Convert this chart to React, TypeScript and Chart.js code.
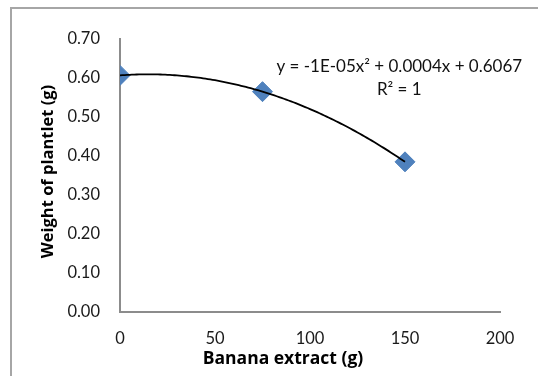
import React, { useEffect, useRef } from "react";
import { Chart, registerables } from "chart.js";

Chart.register(...registerables);

// Banana extract dose (g) and resulting plantlet weight (g)
const extractDose = [0, 75, 150];
const plantletWeight = [0.6067, 0.565, 0.385];

const xTicks = [0, 50, 100, 150, 200];
const yTicks = [0, 0.1, 0.2, 0.3, 0.4, 0.5, 0.6, 0.7];

const xTitle = "Banana extract (g)";
const yTitle = "Weight of plantlet (g)";
const equationText = "y = -1E-05x² + 0.0004x + 0.6067";
const rSquaredText = "R² = 1";

const FONT = "Lato, 'Open Sans', sans-serif";
const TITLE_FONT = "'Open Sans', Lato, sans-serif";

// Least-squares quadratic fit (exact when there are three points)
function fitQuadratic(xs: number[], ys: number[]) {
  const n = xs.length;
  let s0 = n, s1 = 0, s2 = 0, s3 = 0, s4 = 0, t0 = 0, t1 = 0, t2 = 0;
  for (let i = 0; i < n; i++) {
    const x = xs[i], y = ys[i];
    s1 += x; s2 += x * x; s3 += x * x * x; s4 += x * x * x * x;
    t0 += y; t1 += x * y; t2 += x * x * y;
  }
  const m = [
    [s4, s3, s2, t2],
    [s3, s2, s1, t1],
    [s2, s1, s0, t0],
  ];
  for (let c = 0; c < 3; c++) {
    for (let r = c + 1; r < 3; r++) {
      const f = m[r][c] / m[c][c];
      for (let k = c; k < 4; k++) m[r][k] -= f * m[c][k];
    }
  }
  const sol = [0, 0, 0];
  for (let r = 2; r >= 0; r--) {
    let v = m[r][3];
    for (let k = r + 1; k < 3; k++) v -= m[r][k] * sol[k];
    sol[r] = v / m[r][r];
  }
  return { a: sol[0], b: sol[1], c: sol[2] };
}

// Polynomial trendline, its equation and the axis titles
const trendlinePlugin = {
  id: "trendline",
  afterDatasetsDraw(chart: any) {
    const { ctx, scales } = chart;
    const xs = scales.x, ys = scales.y;
    const { a, b, c } = fitQuadratic(extractDose, plantletWeight);
    const x0 = Math.min(...extractDose);
    const x1 = Math.max(...extractDose);
    ctx.save();
    ctx.beginPath();
    const steps = 120;
    for (let i = 0; i <= steps; i++) {
      const xv = x0 + ((x1 - x0) * i) / steps;
      const yv = a * xv * xv + b * xv + c;
      const px = xs.getPixelForValue(xv);
      const py = ys.getPixelForValue(yv);
      if (i === 0) ctx.moveTo(px, py);
      else ctx.lineTo(px, py);
    }
    ctx.strokeStyle = "#000000";
    ctx.lineWidth = 1.8;
    ctx.stroke();

    ctx.fillStyle = "#111111";
    ctx.font = `17px ${FONT}`;
    ctx.textAlign = "center";
    ctx.textBaseline = "middle";
    const cx = xs.getPixelForValue(147);
    ctx.fillText(equationText, cx, 67);
    ctx.fillText(rSquaredText, cx, 90);

    // axis titles
    ctx.fillStyle = "#000000";
    ctx.font = `bold 17.5px ${TITLE_FONT}`;
    ctx.fillText(xTitle, 283, 359);
    ctx.font = `bold 16.5px ${TITLE_FONT}`;
    ctx.translate(48, (ys.top + ys.bottom) / 2 - 4);
    ctx.rotate(-Math.PI / 2);
    ctx.fillText(yTitle, 0, 0);
    ctx.restore();
  },
};

export default function App() {
  const canvasRef = useRef<HTMLCanvasElement | null>(null);

  useEffect(() => {
    if (!canvasRef.current) return;
    const chart = new Chart(canvasRef.current, {
      type: "scatter",
      data: {
        datasets: [
          {
            label: "Weight of plantlet",
            data: extractDose.map((x, i) => ({ x, y: plantletWeight[i] })),
            pointStyle: "rectRot",
            pointRadius: 10,
            pointHoverRadius: 10,
            backgroundColor: "#4F81BD",
            borderColor: "#4F81BD",
            borderWidth: 1,
          },
        ],
      },
      options: {
        animation: false,
        responsive: false,
        events: [],
        layout: {
          autoPadding: false,
          padding: { left: 0, top: 39, right: 38, bottom: 0 },
        },
        plugins: {
          legend: { display: false },
          tooltip: { enabled: false },
        },
        scales: {
          x: {
            type: "linear",
            min: 0,
            max: 200,
            afterBuildTicks: (scale: any) => {
              scale.ticks = xTicks.map((v) => ({ value: v }));
            },
            afterFit: (scale: any) => {
              scale.height = 64;
            },
            grid: { display: false, drawTicks: false },
            border: { display: true, color: "#8C8C8C", width: 2 },
            ticks: {
              padding: 17,
              color: "#1a1a1a",
              font: { family: FONT, size: 16.5 },
              maxRotation: 0,
              autoSkip: false,
              callback: (v: any) => String(v),
            },
          },
          y: {
            type: "linear",
            min: 0,
            max: 0.7,
            afterBuildTicks: (scale: any) => {
              scale.ticks = yTicks.map((v) => ({ value: v }));
            },
            afterFit: (scale: any) => {
              scale.width = 120;
            },
            grid: { display: false, drawTicks: false },
            border: { display: true, color: "#8C8C8C", width: 2 },
            ticks: {
              padding: 20,
              color: "#1a1a1a",
              font: { family: FONT, size: 16.5 },
              autoSkip: false,
              callback: (v: any) => Number(v).toFixed(2),
            },
          },
        },
      },
      plugins: [trendlinePlugin],
    });
    return () => chart.destroy();
  }, []);

  return (
    <div
      style={{
        position: "absolute",
        left: 0,
        top: 0,
        width: 538,
        height: 376,
        background: "#ffffff",
        overflow: "hidden",
      }}
    >
      <div
        style={{
          position: "absolute",
          left: 10,
          top: 7,
          width: 600,
          height: 400,
          borderTop: "2px solid #A6A6A6",
          borderLeft: "2px solid #A6A6A6",
        }}
      />
      <canvas
        ref={canvasRef}
        width={538}
        height={376}
        style={{ position: "absolute", left: 0, top: 0 }}
      />
    </div>
  );
}
